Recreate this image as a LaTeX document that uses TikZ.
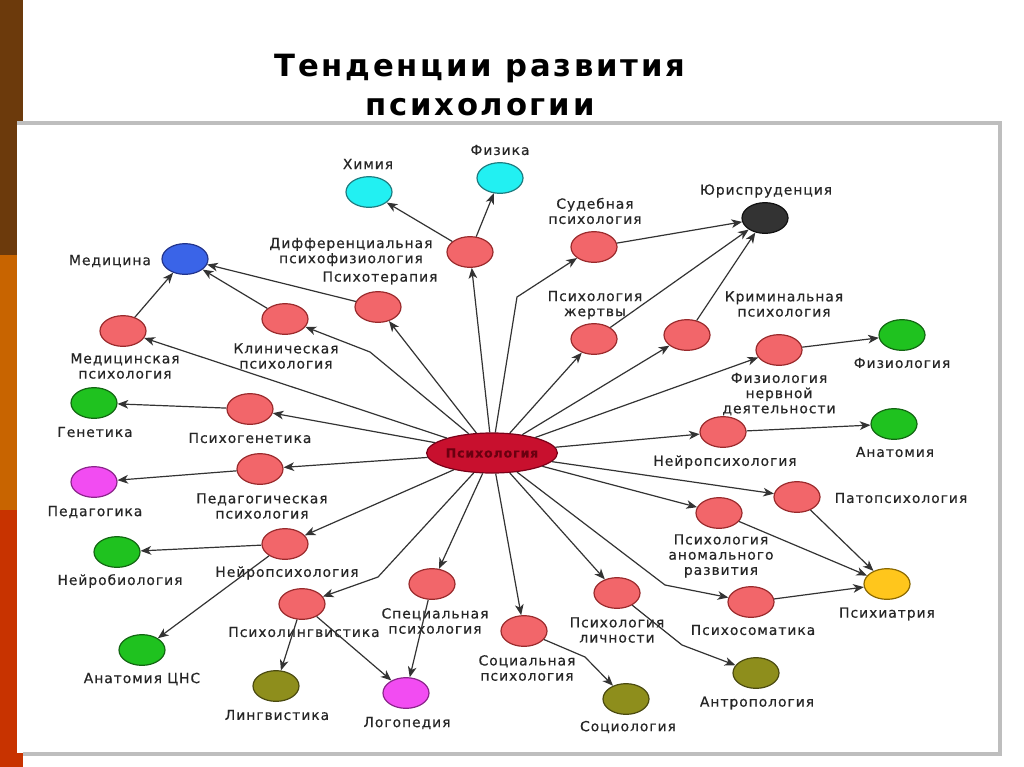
\documentclass[tikz,border=0pt]{standalone}
\usepackage{fontspec}
\setmainfont{DejaVu Sans}
\newfontfamily\lblfont[LetterSpace=7, FakeBold=0.5]{DejaVu Sans}
\newfontfamily\ttlfont[LetterSpace=9]{DejaVu Sans}
\usetikzlibrary{arrows.meta, shapes.geometric}
\definecolor{stripbrown}{HTML}{6C3A0C}
\definecolor{striporange}{HTML}{C86400}
\definecolor{stripred}{HTML}{C83300}
\definecolor{framegray}{HTML}{BEBEBE}
\definecolor{edgegray}{HTML}{333333}
\definecolor{txtgray}{HTML}{262626}
\definecolor{pinkf}{HTML}{F2666A}
\definecolor{pinkd}{HTML}{9A2A2C}
\definecolor{cyanf}{HTML}{22F0F2}
\definecolor{cyand}{HTML}{1F7C80}
\definecolor{bluef}{HTML}{3A64E8}
\definecolor{blued}{HTML}{22348C}
\definecolor{darkf}{HTML}{333333}
\definecolor{darkd}{HTML}{111111}
\definecolor{greenf}{HTML}{1FC21F}
\definecolor{greend}{HTML}{126612}
\definecolor{magf}{HTML}{F24CF2}
\definecolor{magd}{HTML}{8A248A}
\definecolor{olivef}{HTML}{8E8E1C}
\definecolor{olived}{HTML}{4A4A10}
\definecolor{yellowf}{HTML}{FFC61C}
\definecolor{yellowd}{HTML}{8A6800}
\definecolor{crimsonf}{HTML}{C8102E}
\definecolor{crimsond}{HTML}{7A0018}
\definecolor{crimtext}{HTML}{6A0010}

\begin{document}
\begin{tikzpicture}[x=0.75pt, y=-0.75pt,
  >={Stealth[length=8pt, width=6.5pt, inset=2.3pt]},
  disc/.style 2 args={ellipse, fill=#1, draw=#2, line width=0.9pt,
    minimum width=34.5pt, minimum height=23pt, inner sep=0pt},
  lbl/.style={text=txtgray, align=center, inner sep=0pt,
    font=\lblfont\fontsize{10.4}{11.4}\selectfont},
  link/.style={draw=edgegray, line width=0.9pt, ->}]

\useasboundingbox (0,0) rectangle (1024,767);

% Slide background: coloured strip on the left, white panel with grey frame
\fill[white] (0,0) rectangle (1024,767);
\fill[stripbrown] (0,0) rectangle (23,255);
\fill[striporange] (0,255) rectangle (23,510);
\fill[stripred] (0,510) rectangle (23,767);
\fill[white] (17,124) rectangle (999,753);
\draw[framegray, line width=2.4pt] (17,123) -- (1000,123) -- (1000,754) -- (23,754);

% Title
\node[font=\ttlfont\bfseries\fontsize{23}{29}\selectfont, align=center, text=black]
  (title) at (480,85) {Тенденции развития\\психологии};

% Centre
\node[ellipse, fill=crimsonf, draw=crimsond, line width=0.9pt, inner sep=0pt,
  minimum width=97.5pt, minimum height=30pt, text=crimtext,
  font=\lblfont\bfseries\fontsize{9.4}{10}\selectfont] (psy) at (492,453) {Психология};

% Branches of psychology
\node[disc={pinkf}{pinkd}] (dif) at (470,252) {};
\node[disc={pinkf}{pinkd}] (ther) at (378,307) {};
\node[disc={pinkf}{pinkd}] (clin) at (285,319) {};
\node[disc={pinkf}{pinkd}] (medps) at (123,331) {};
\node[disc={pinkf}{pinkd}] (psgen) at (250,409) {};
\node[disc={pinkf}{pinkd}] (pedps) at (260,469) {};
\node[disc={pinkf}{pinkd}] (neurl) at (285,544) {};
\node[disc={pinkf}{pinkd}] (pling) at (302,604) {};
\node[disc={pinkf}{pinkd}] (spec) at (432,584) {};
\node[disc={pinkf}{pinkd}] (socps) at (524,631) {};
\node[disc={pinkf}{pinkd}] (pers) at (617,593) {};
\node[disc={pinkf}{pinkd}] (soma) at (751,602) {};
\node[disc={pinkf}{pinkd}] (anom) at (719,513) {};
\node[disc={pinkf}{pinkd}] (pato) at (797,497) {};
\node[disc={pinkf}{pinkd}] (neurr) at (723,432) {};
\node[disc={pinkf}{pinkd}] (hnd) at (779,350) {};
\node[disc={pinkf}{pinkd}] (crim) at (687,335) {};
\node[disc={pinkf}{pinkd}] (vict) at (594,339) {};
\node[disc={pinkf}{pinkd}] (court) at (594,247) {};

% Neighbouring sciences
\node[disc={cyanf}{cyand}] (chem) at (369,192) {};
\node[disc={cyanf}{cyand}] (phys) at (500,178) {};
\node[disc={bluef}{blued}] (med) at (185,259) {};
\node[disc={greenf}{greend}] (gen) at (94,403) {};
\node[disc={magf}{magd}] (peda) at (94,482) {};
\node[disc={greenf}{greend}] (nbio) at (117,552) {};
\node[disc={greenf}{greend}] (cns) at (142,650) {};
\node[disc={olivef}{olived}] (ling) at (276,686) {};
\node[disc={magf}{magd}] (logo) at (406,693) {};
\node[disc={olivef}{olived}] (socio) at (626,699) {};
\node[disc={olivef}{olived}] (anthr) at (756,673) {};
\node[disc={yellowf}{yellowd}] (psych) at (887,584) {};
\node[disc={greenf}{greend}] (anat) at (894,424) {};
\node[disc={greenf}{greend}] (physio) at (902,335) {};
\node[disc={darkf}{darkd}] (law) at (765,218) {};

% Labels
\node[lbl] (difL) at (351,252) {Дифференциальная\\психофизиология};
\node[lbl] (therL) at (380,278) {Психотерапия};
\node[lbl] (clinL) at (286,356) {Клиническая\\психология};
\node[lbl] (medpsL) at (125,366) {Медицинская\\психология};
\node[lbl] (psgenL) at (250,438) {Психогенетика};
\node[lbl] (pedpsL) at (262,506) {Педагогическая\\психология};
\node[lbl] (neurlL) at (287,573) {Нейропсихология};
\node[lbl] (plingL) at (304,632) {Психолингвистика};
\node[lbl] (specL) at (435,621) {Специальная\\психология};
\node[lbl] (socpsL) at (527,668) {Социальная\\психология};
\node[lbl] (persL) at (617,630) {Психология\\личности};
\node[lbl] (somaL) at (753,630) {Психосоматика};
\node[lbl] (anomL) at (721,556) {Психология\\аномального\\развития};
\node[lbl] (patoL) at (901,498) {Патопсихология};
\node[lbl] (neurrL) at (725,462) {Нейропсихология};
\node[lbl] (hndL) at (779,394) {Физиология\\нервной\\деятельности};
\node[lbl] (crimL) at (784,304) {Криминальная\\психология};
\node[lbl] (victL) at (595,305) {Психология\\жертвы};
\node[lbl] (courtL) at (595,211) {Судебная\\психология};
\node[lbl] (chemL) at (368,164) {Химия};
\node[lbl] (physL) at (500,150) {Физика};
\node[lbl] (medL) at (110,261) {Медицина};
\node[lbl] (genL) at (95,432) {Генетика};
\node[lbl] (pedaL) at (95,512) {Педагогика};
\node[lbl] (nbioL) at (120,581) {Нейробиология};
\node[lbl] (cnsL) at (142,679) {Анатомия ЦНС};
\node[lbl] (lingL) at (277,715) {Лингвистика};
\node[lbl] (logoL) at (407,723) {Логопедия};
\node[lbl] (socioL) at (628,727) {Социология};
\node[lbl] (anthrL) at (757,703) {Антропология};
\node[lbl] (psychL) at (887,614) {Психиатрия};
\node[lbl] (anatL) at (895,452) {Анатомия};
\node[lbl] (physioL) at (902,363) {Физиология};
\node[lbl] (lawL) at (766,191) {Юриспруденция};

% Bend points of the broken connectors
\coordinate (kClin) at (370,352);
\coordinate (kCourt) at (517,297);
\coordinate (kSoma) at (665,585);
\coordinate (kLing) at (378,577);
\coordinate (kSoc) at (585,657);
\coordinate (kPers) at (682,645);

% From the centre
\draw[link] (psy) -- (medps);
\draw[link] (psy) -- (kClin) -- (clin);
\draw[link] (psy) -- (ther);
\draw[link] (psy) -- (dif);
\draw[link] (psy) -- (kCourt) -- (court);
\draw[link] (psy) -- (vict);
\draw[link] (psy) -- (crim);
\draw[link] (psy) -- (hnd);
\draw[link] (psy) -- (neurr);
\draw[link] (psy) -- (pato);
\draw[link] (psy) -- (anom);
\draw[link] (psy) -- (kSoma) -- (soma);
\draw[link] (psy) -- (pers);
\draw[link] (psy) -- (socps);
\draw[link] (psy) -- (spec);
\draw[link] (psy) -- (kLing) -- (pling);
\draw[link] (psy) -- (neurl);
\draw[link] (psy) -- (pedps);
\draw[link] (psy) -- (psgen);

% To the neighbouring sciences
\draw[link] (dif) -- (chem);
\draw[link] (dif) -- (phys);
\draw[link] (medps) -- (med);
\draw[link] (clin) -- (med);
\draw[link] (ther) -- (med);
\draw[link] (psgen) -- (gen);
\draw[link] (pedps) -- (peda);
\draw[link] (neurl) -- (nbio);
\draw[link] (neurl) -- (cns);
\draw[link] (pling) -- (ling);
\draw[link] (pling) -- (logo);
\draw[link] (spec) -- (logo);
\draw[link] (socps) -- (kSoc) -- (socio);
\draw[link] (pers) -- (kPers) -- (anthr);
\draw[link] (court) -- (law);
\draw[link] (vict) -- (law);
\draw[link] (crim) -- (law);
\draw[link] (hnd) -- (physio);
\draw[link] (neurr) -- (anat);
\draw[link] (pato) -- (psych);
\draw[link] (anom) -- (psych);
\draw[link] (soma) -- (psych);

\end{tikzpicture}
\end{document}
